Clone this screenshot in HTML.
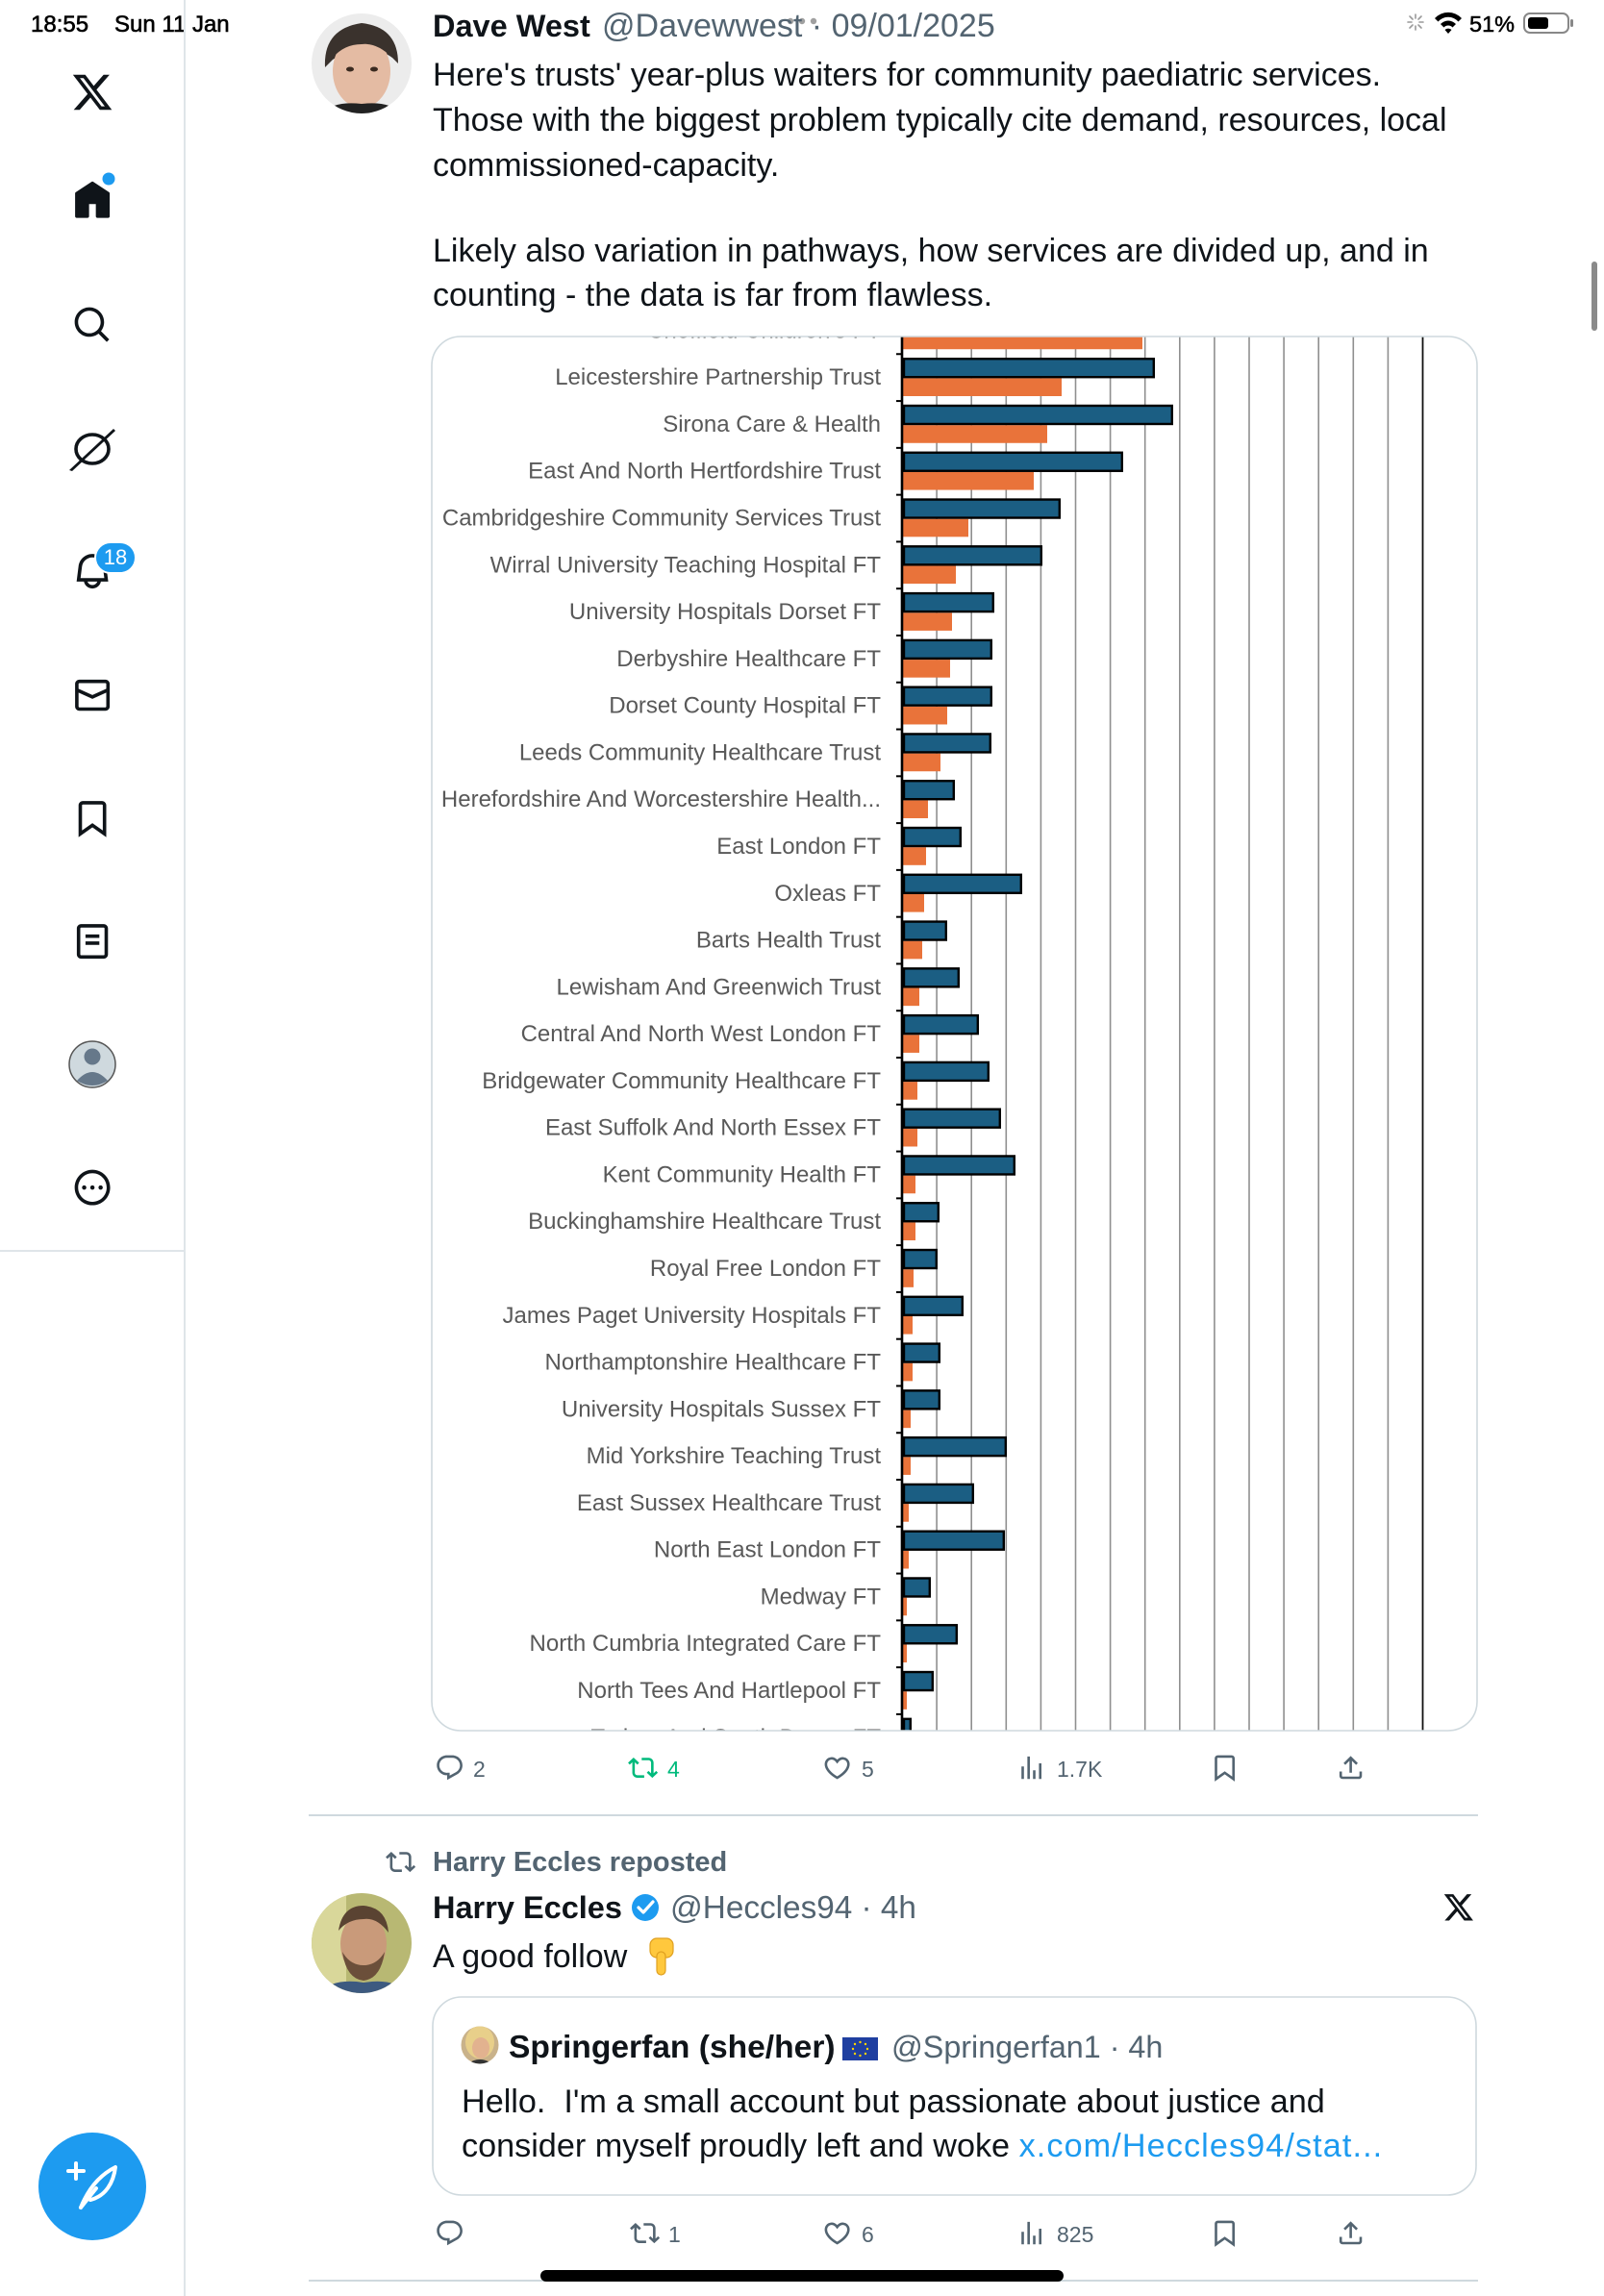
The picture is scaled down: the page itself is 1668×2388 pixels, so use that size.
<!DOCTYPE html>
<html><head><meta charset="utf-8"><style>
html,body{margin:0;padding:0;background:#fff;}
body{width:1668px;height:2388px;overflow:hidden;position:relative;}
svg{position:absolute;left:0;top:0;}
text{font-family:"Liberation Sans","DejaVu Sans",sans-serif;}
</style></head><body>
<svg width="1668" height="2388" viewBox="0 0 1668 2388" xmlns="http://www.w3.org/2000/svg">
<defs>
<clipPath id="chartclip"><rect x="449" y="350" width="1087" height="1450" rx="30" ry="30"/></clipPath>
<clipPath id="av1"><circle cx="376" cy="66" r="52"/></clipPath>
<clipPath id="av2"><circle cx="376" cy="2021" r="52"/></clipPath>
<clipPath id="av3"><circle cx="499" cy="2127" r="19.5"/></clipPath>
<path id="i-reply" d="M1.751 10c0-4.42 3.584-8 8.005-8h4.366c4.49 0 8.129 3.64 8.129 8.13 0 2.96-1.607 5.68-4.196 7.11l-8.054 4.46v-3.690h-.067c-4.49.1-8.183-3.51-8.183-8.01zm8.005-6c-3.317 0-6.005 2.69-6.005 6 0 3.37 2.77 6.080 6.138 6.010l.351-.01h1.761v2.3l5.087-2.810c1.951-1.080 3.163-3.130 3.163-5.360 0-3.390-2.744-6.130-6.129-6.130H9.756z"/>
<path id="i-rt" d="M4.5 3.88l4.432 4.14-1.364 1.46L5.5 7.55V16c0 1.1.896 2 2 2H13v2H7.5c-2.209 0-4-1.790-4-4V7.550L1.432 9.480.068 8.020 4.5 3.880zM16.5 6H11V4h5.5c2.209 0 4 1.790 4 4v8.450l2.068-1.930 1.364 1.460-4.432 4.140-4.432-4.140 1.364-1.460 2.068 1.930V8c0-1.1-.896-2-2-2z"/>
<path id="i-like" d="M16.697 5.5c-1.222-.06-2.679.51-3.89 2.16l-.805 1.09-.806-1.09C9.984 6.01 8.526 5.44 7.304 5.5c-1.243.07-2.349.78-2.91 1.91-.552 1.12-.633 2.78.479 4.82 1.074 1.97 3.257 4.27 7.129 6.610 3.870-2.340 6.052-4.640 7.126-6.610 1.111-2.040 1.030-3.700.477-4.820-.561-1.130-1.666-1.840-2.908-1.910zm4.187 7.690c-1.351 2.480-4.001 5.120-8.379 7.670l-.503.3-.504-.3c-4.379-2.550-7.029-5.190-8.382-7.670-1.360-2.500-1.410-4.860-.514-6.670.887-1.790 2.647-2.910 4.601-3.010 1.651-.090 3.368.560 4.798 2.010 1.429-1.450 3.146-2.100 4.796-2.010 1.954.1 3.714 1.220 4.601 3.010.896 1.810.846 4.170-.514 6.670z"/>
<path id="i-views" d="M8.75 21V3h2v18h-2zM18 21V8.5h2V21h-2zM4 21l.004-10h2L6 21H4zm9.248 0v-7h2v7h-2z"/>
<path id="i-bm" d="M4 4.5C4 3.12 5.119 2 6.5 2h11C18.881 2 20 3.12 20 4.5v18.44l-8-5.71-8 5.71V4.5zM6.5 4c-.276 0-.5.22-.5.5v14.56l6-4.29 6 4.29V4.5c0-.28-.224-.5-.5-.5h-11z"/>
<path id="i-share" d="M12 2.59l5.7 5.7-1.41 1.42L13 6.41V16h-2V6.41l-3.3 3.3-1.41-1.42L12 2.59zM21 15l-.02 3.51c0 1.38-1.12 2.49-2.5 2.49H5.5C4.11 21 3 19.88 3 18.5V15h2v3.5c0 .28.22.5.5.5h12.98c.28 0 .5-.22.5-.5L19 15h2z"/>
<path id="i-x" d="M18.244 2.25h3.308l-7.227 8.26 8.502 11.24H16.17l-5.214-6.817L4.99 21.75H1.68l7.73-8.835L1.254 2.25H8.08l4.713 6.231zm-1.161 17.52h1.833L7.084 4.126H5.117z"/>
</defs>

<!-- ===== Status bar ===== -->
<text x="32" y="33" font-size="24" fill="#000" stroke="#000" stroke-width="0.6">18:55</text>
<text x="119" y="33" font-size="24" fill="#000" stroke="#000" stroke-width="0.6">Sun 11 Jan</text>
<g stroke="#9a9a9a" stroke-width="1.6" stroke-linecap="round">
<line x1="1472" y1="15" x2="1472" y2="19"/><line x1="1472" y1="27" x2="1472" y2="31"/>
<line x1="1464" y1="23" x2="1468" y2="23"/><line x1="1476" y1="23" x2="1480" y2="23"/>
<line x1="1466" y1="17" x2="1469" y2="20"/><line x1="1475" y1="26" x2="1478" y2="29"/>
<line x1="1478" y1="17" x2="1475" y2="20"/><line x1="1469" y1="26" x2="1466" y2="29"/>
</g>
<path d="M1492 19 A19 19 0 0 1 1520 19 L1516.5 22.5 A14 14 0 0 0 1495.5 22.5Z M1498 25 A11 11 0 0 1 1514 25 L1510.5 28.5 A6 6 0 0 0 1501.5 28.5Z M1506 35 L1502.5 31 A5 5 0 0 1 1509.5 31Z" fill="#000"/>
<text x="1528" y="33" font-size="23.5" fill="#000" stroke="#000" stroke-width="0.5">51%</text>
<rect x="1585" y="14" width="46" height="20" rx="6" fill="none" stroke="#888" stroke-width="2"/>
<rect x="1589" y="18" width="21" height="12" rx="3" fill="#000"/>
<rect x="1633" y="20" width="3" height="8" rx="1.5" fill="#888"/>
<circle cx="822" cy="22" r="3.2" fill="#a0a0a0"/><circle cx="834" cy="22" r="3.2" fill="#a0a0a0"/><circle cx="846" cy="22" r="3.2" fill="#a0a0a0"/>

<!-- ===== Sidebar ===== -->
<line x1="192" y1="0" x2="192" y2="2388" stroke="#dfe5e9" stroke-width="2"/>
<line x1="0" y1="1301" x2="192" y2="1301" stroke="#dfe5e9" stroke-width="2"/>
<use href="#i-x" transform="translate(73.5,73.5) scale(1.875)" fill="#0f1419"/>
<path transform="translate(74.5,187) scale(1.8)" fill="#0f1419" d="M21.591 7.146L12.52 1.157c-.316-.21-.724-.21-1.04 0l-9.071 5.99c-.26.173-.409.456-.409.757v13.183c0 .502.418.913.929.913H9.14c.51 0 .929-.41.929-.913v-7.075h3.909v7.075c0 .502.417.913.928.913h6.165c.511 0 .929-.41.929-.913V7.904c0-.301-.158-.584-.408-.758z"/>
<circle cx="113" cy="186" r="6.5" fill="#1d9bf0"/>
<path transform="translate(74.5,316.5) scale(1.8)" fill="#0f1419" d="M10.25 3.75c-3.59 0-6.5 2.91-6.5 6.5s2.91 6.5 6.5 6.5c1.795 0 3.419-.726 4.596-1.904 1.178-1.177 1.904-2.801 1.904-4.596 0-3.59-2.91-6.5-6.5-6.5zm-8.5 6.5c0-4.694 3.806-8.5 8.5-8.5s8.5 3.806 8.5 8.5c0 1.986-.682 3.815-1.824 5.262l4.781 4.781-1.414 1.414-4.781-4.781c-1.447 1.142-3.276 1.824-5.262 1.824-4.694 0-8.5-3.806-8.5-8.5z"/>
<ellipse cx="96" cy="467" rx="17" ry="15" fill="none" stroke="#0f1419" stroke-width="3.6"/>
<path d="M72 489 L118 446 L120 448 L75 490Z" fill="#0f1419"/>
<path transform="translate(74.5,572.5) scale(1.8)" fill="#0f1419" d="M19.993 9.042C19.48 5.017 16.054 2 11.996 2s-7.49 3.021-7.999 7.051L2.866 18H7.1c.463 2.282 2.481 4 4.9 4s4.437-1.718 4.9-4h4.236l-1.143-8.958zM12 20c-1.306 0-2.417-.835-2.829-2h5.658c-.412 1.165-1.523 2-2.829 2zm-6.866-4l.847-6.698C6.364 6.272 8.941 4 11.996 4s5.627 2.268 6.013 5.295L18.864 16H5.134z"/>
<rect x="99" y="564" width="42" height="32" rx="16" fill="#1d9bf0" stroke="#fff" stroke-width="2"/>
<text x="120" y="587" font-size="22" fill="#fff" text-anchor="middle">18</text>
<path transform="translate(74.5,701.5) scale(1.8)" fill="#0f1419" d="M1.998 5.5c0-1.381 1.119-2.5 2.5-2.5h15c1.381 0 2.5 1.119 2.5 2.5v13c0 1.381-1.119 2.5-2.5 2.5h-15c-1.381 0-2.5-1.119-2.5-2.5v-13zm2.5-.5c-.276 0-.5.224-.5.5v2.764l8 3.638 8-3.636V5.5c0-.276-.224-.5-.5-.5h-15zm15.5 5.463l-8 3.636-8-3.638V18.5c0 .276.224.5.5.5h15c.276 0 .5-.224.5-.5v-8.037z"/>
<use href="#i-bm" transform="translate(74.5,829.5) scale(1.8)" fill="#0f1419"/>
<path transform="translate(74.5,957.5) scale(1.8)" fill="#0f1419" d="M3 4.5C3 3.12 4.12 2 5.5 2h13C19.88 2 21 3.12 21 4.5v15c0 1.38-1.12 2.5-2.5 2.5h-13C4.12 22 3 20.88 3 19.5v-15zM5.5 4c-.28 0-.5.22-.5.5v15c0 .28.22.5.5.5h13c.28 0 .5-.22.5-.5v-15c0-.28-.22-.5-.5-.5h-13zM16 10H8V8h8v2zm-8 2h8v2H8v-2z"/>
<circle cx="96" cy="1107" r="24" fill="#cfd9de" stroke="#555" stroke-width="1.5"/>
<circle cx="96" cy="1099" r="8.5" fill="#66788a"/>
<path d="M80 1124 Q96 1106 112 1124 Q96 1134 80 1124Z" fill="#66788a"/>
<path transform="translate(74.5,1213.5) scale(1.8)" fill="#0f1419" d="M3.75 12c0-4.56 3.69-8.25 8.25-8.25s8.25 3.69 8.25 8.25-3.69 8.25-8.25 8.25S3.75 16.56 3.75 12zM12 1.75C6.34 1.75 1.75 6.34 1.75 12S6.34 22.25 12 22.25 22.25 17.66 22.25 12 17.66 1.75 12 1.75zm-4.75 11.5c.69 0 1.250-.56 1.250-1.250s-.56-1.250-1.250-1.250S6 11.310 6 12s.56 1.250 1.250 1.250zm9.5 0c.69 0 1.250-.56 1.250-1.250s-.56-1.250-1.250-1.250-1.250.56-1.250 1.250.56 1.250 1.250 1.250zM13.250 12c0 .69-.56 1.250-1.250 1.250s-1.250-.56-1.250-1.250.56-1.250 1.250-1.250 1.250.56 1.250 1.250z"/>
<!-- compose -->
<circle cx="96" cy="2274" r="56" fill="#1d9bf0"/>
<g stroke="#fff" stroke-width="4" fill="none" stroke-linecap="round" stroke-linejoin="round">
<line x1="79" y1="2250" x2="79" y2="2266"/><line x1="71" y1="2258" x2="87" y2="2258"/>
<path d="M84 2296 C92 2276 104 2262 120 2254 C118 2270 110 2284 94 2288"/>
<line x1="84" y1="2296" x2="100" y2="2276"/>
</g>
<rect x="1655" y="272" width="6" height="72" rx="3" fill="#8a8a8a"/>

<!-- ===== Tweet 1 ===== -->
<g clip-path="url(#av1)">
<rect x="320" y="10" width="112" height="112" fill="#ececec"/>
<path d="M338 70 Q336 30 376 24 Q414 28 414 66 L408 60 Q380 40 346 62Z" fill="#3a322d"/>
<ellipse cx="376" cy="74" rx="30" ry="38" fill="#e4bba3"/>
<path d="M346 60 Q350 34 378 32 Q404 34 408 60 Q392 44 376 46 Q358 46 346 60Z" fill="#3a322d"/>
<path d="M330 125 Q340 104 376 108 Q412 104 422 125Z" fill="#222"/>
<ellipse cx="364" cy="72" rx="4" ry="2.5" fill="#3a2a20"/><ellipse cx="389" cy="72" rx="4" ry="2.5" fill="#3a2a20"/>
</g>
<text x="450" y="38" font-size="32.5" font-weight="bold" fill="#0f1419">Dave West</text>
<text x="626" y="38" font-size="34" fill="#536471">@Davewwest · 09/01/2025</text>
<g font-size="34" fill="#0f1419">
<text x="450" y="89">Here's trusts' year-plus waiters for community paediatric services.</text>
<text x="450" y="136">Those with the biggest problem typically cite demand, resources, local</text>
<text x="450" y="183">commissioned-capacity.</text>
<text x="450" y="272">Likely also variation in pathways, how services are divided up, and in</text>
<text x="450" y="318">counting - the data is far from flawless.</text>
</g>

<!-- ===== Chart ===== -->
<g clip-path="url(#chartclip)">
<rect x="449" y="350" width="1087" height="1450" fill="#fff"/>
<g stroke="#8f8f8f" stroke-width="1.6">
<line x1="974.1" y1="340" x2="974.1" y2="1810"/><line x1="1010.2" y1="340" x2="1010.2" y2="1810"/>
<line x1="1046.3" y1="340" x2="1046.3" y2="1810"/><line x1="1082.4" y1="340" x2="1082.4" y2="1810"/>
<line x1="1118.5" y1="340" x2="1118.5" y2="1810"/><line x1="1154.6" y1="340" x2="1154.6" y2="1810"/>
<line x1="1190.7" y1="340" x2="1190.7" y2="1810"/><line x1="1226.8" y1="340" x2="1226.8" y2="1810"/>
<line x1="1262.9" y1="340" x2="1262.9" y2="1810"/><line x1="1299" y1="340" x2="1299" y2="1810"/>
<line x1="1335.1" y1="340" x2="1335.1" y2="1810"/><line x1="1371.2" y1="340" x2="1371.2" y2="1810"/>
<line x1="1407.3" y1="340" x2="1407.3" y2="1810"/><line x1="1443.4" y1="340" x2="1443.4" y2="1810"/>
</g>
<line x1="1479.5" y1="340" x2="1479.5" y2="1810" stroke="#111" stroke-width="1.8"/>

<g font-size="24" fill="#595959" text-anchor="end" dominant-baseline="central">
<g transform="translate(0,323.22)"><rect x="939" y="21.4" width="249" height="18.6" fill="#e9733a"/><rect x="940" y="1.2" width="288.8" height="19" fill="#1b5e83" stroke="#000" stroke-width="2.4"/><text x="916" y="20.7">Sheffield Children's FT</text><line x1="932" y1="-3.7" x2="938" y2="-3.7" stroke="#000" stroke-width="2"/></g>
<g transform="translate(0,372)"><rect x="939" y="21.4" width="165" height="18.6" fill="#e9733a"/><rect x="940" y="1.2" width="259.8" height="19" fill="#1b5e83" stroke="#000" stroke-width="2.4"/><text x="916" y="20.7">Leicestershire Partnership Trust</text><line x1="932" y1="-3.7" x2="938" y2="-3.7" stroke="#000" stroke-width="2"/></g>
<g transform="translate(0,420.78)"><rect x="939" y="21.4" width="150" height="18.6" fill="#e9733a"/><rect x="940" y="1.2" width="278.8" height="19" fill="#1b5e83" stroke="#000" stroke-width="2.4"/><text x="916" y="20.7">Sirona Care &amp; Health</text><line x1="932" y1="-3.7" x2="938" y2="-3.7" stroke="#000" stroke-width="2"/></g>
<g transform="translate(0,469.56)"><rect x="939" y="21.4" width="136" height="18.6" fill="#e9733a"/><rect x="940" y="1.2" width="226.8" height="19" fill="#1b5e83" stroke="#000" stroke-width="2.4"/><text x="916" y="20.7">East And North Hertfordshire Trust</text><line x1="932" y1="-3.7" x2="938" y2="-3.7" stroke="#000" stroke-width="2"/></g>
<g transform="translate(0,518.34)"><rect x="939" y="21.4" width="68" height="18.6" fill="#e9733a"/><rect x="940" y="1.2" width="161.8" height="19" fill="#1b5e83" stroke="#000" stroke-width="2.4"/><text x="916" y="20.7">Cambridgeshire Community Services Trust</text><line x1="932" y1="-3.7" x2="938" y2="-3.7" stroke="#000" stroke-width="2"/></g>
<g transform="translate(0,567.12)"><rect x="939" y="21.4" width="55" height="18.6" fill="#e9733a"/><rect x="940" y="1.2" width="142.8" height="19" fill="#1b5e83" stroke="#000" stroke-width="2.4"/><text x="916" y="20.7">Wirral University Teaching Hospital FT</text><line x1="932" y1="-3.7" x2="938" y2="-3.7" stroke="#000" stroke-width="2"/></g>
<g transform="translate(0,615.9)"><rect x="939" y="21.4" width="51" height="18.6" fill="#e9733a"/><rect x="940" y="1.2" width="92.8" height="19" fill="#1b5e83" stroke="#000" stroke-width="2.4"/><text x="916" y="20.7">University Hospitals Dorset FT</text><line x1="932" y1="-3.7" x2="938" y2="-3.7" stroke="#000" stroke-width="2"/></g>
<g transform="translate(0,664.68)"><rect x="939" y="21.4" width="49" height="18.6" fill="#e9733a"/><rect x="940" y="1.2" width="90.8" height="19" fill="#1b5e83" stroke="#000" stroke-width="2.4"/><text x="916" y="20.7">Derbyshire Healthcare FT</text><line x1="932" y1="-3.7" x2="938" y2="-3.7" stroke="#000" stroke-width="2"/></g>
<g transform="translate(0,713.46)"><rect x="939" y="21.4" width="46" height="18.6" fill="#e9733a"/><rect x="940" y="1.2" width="90.8" height="19" fill="#1b5e83" stroke="#000" stroke-width="2.4"/><text x="916" y="20.7">Dorset County Hospital FT</text><line x1="932" y1="-3.7" x2="938" y2="-3.7" stroke="#000" stroke-width="2"/></g>
<g transform="translate(0,762.24)"><rect x="939" y="21.4" width="39" height="18.6" fill="#e9733a"/><rect x="940" y="1.2" width="89.8" height="19" fill="#1b5e83" stroke="#000" stroke-width="2.4"/><text x="916" y="20.7">Leeds Community Healthcare Trust</text><line x1="932" y1="-3.7" x2="938" y2="-3.7" stroke="#000" stroke-width="2"/></g>
<g transform="translate(0,811.02)"><rect x="939" y="21.4" width="26" height="18.6" fill="#e9733a"/><rect x="940" y="1.2" width="51.8" height="19" fill="#1b5e83" stroke="#000" stroke-width="2.4"/><text x="916" y="20.7">Herefordshire And Worcestershire Health...</text><line x1="932" y1="-3.7" x2="938" y2="-3.7" stroke="#000" stroke-width="2"/></g>
<g transform="translate(0,859.8)"><rect x="939" y="21.4" width="24" height="18.6" fill="#e9733a"/><rect x="940" y="1.2" width="58.8" height="19" fill="#1b5e83" stroke="#000" stroke-width="2.4"/><text x="916" y="20.7">East London FT</text><line x1="932" y1="-3.7" x2="938" y2="-3.7" stroke="#000" stroke-width="2"/></g>
<g transform="translate(0,908.58)"><rect x="939" y="21.4" width="22" height="18.6" fill="#e9733a"/><rect x="940" y="1.2" width="121.8" height="19" fill="#1b5e83" stroke="#000" stroke-width="2.4"/><text x="916" y="20.7">Oxleas FT</text><line x1="932" y1="-3.7" x2="938" y2="-3.7" stroke="#000" stroke-width="2"/></g>
<g transform="translate(0,957.36)"><rect x="939" y="21.4" width="20" height="18.6" fill="#e9733a"/><rect x="940" y="1.2" width="43.8" height="19" fill="#1b5e83" stroke="#000" stroke-width="2.4"/><text x="916" y="20.7">Barts Health Trust</text><line x1="932" y1="-3.7" x2="938" y2="-3.7" stroke="#000" stroke-width="2"/></g>
<g transform="translate(0,1006.14)"><rect x="939" y="21.4" width="17" height="18.6" fill="#e9733a"/><rect x="940" y="1.2" width="56.8" height="19" fill="#1b5e83" stroke="#000" stroke-width="2.4"/><text x="916" y="20.7">Lewisham And Greenwich Trust</text><line x1="932" y1="-3.7" x2="938" y2="-3.7" stroke="#000" stroke-width="2"/></g>
<g transform="translate(0,1054.92)"><rect x="939" y="21.4" width="17" height="18.6" fill="#e9733a"/><rect x="940" y="1.2" width="76.8" height="19" fill="#1b5e83" stroke="#000" stroke-width="2.4"/><text x="916" y="20.7">Central And North West London FT</text><line x1="932" y1="-3.7" x2="938" y2="-3.7" stroke="#000" stroke-width="2"/></g>
<g transform="translate(0,1103.7)"><rect x="939" y="21.4" width="15" height="18.6" fill="#e9733a"/><rect x="940" y="1.2" width="87.8" height="19" fill="#1b5e83" stroke="#000" stroke-width="2.4"/><text x="916" y="20.7">Bridgewater Community Healthcare FT</text><line x1="932" y1="-3.7" x2="938" y2="-3.7" stroke="#000" stroke-width="2"/></g>
<g transform="translate(0,1152.48)"><rect x="939" y="21.4" width="15" height="18.6" fill="#e9733a"/><rect x="940" y="1.2" width="99.8" height="19" fill="#1b5e83" stroke="#000" stroke-width="2.4"/><text x="916" y="20.7">East Suffolk And North Essex FT</text><line x1="932" y1="-3.7" x2="938" y2="-3.7" stroke="#000" stroke-width="2"/></g>
<g transform="translate(0,1201.26)"><rect x="939" y="21.4" width="13" height="18.6" fill="#e9733a"/><rect x="940" y="1.2" width="114.8" height="19" fill="#1b5e83" stroke="#000" stroke-width="2.4"/><text x="916" y="20.7">Kent Community Health FT</text><line x1="932" y1="-3.7" x2="938" y2="-3.7" stroke="#000" stroke-width="2"/></g>
<g transform="translate(0,1250.04)"><rect x="939" y="21.4" width="13" height="18.6" fill="#e9733a"/><rect x="940" y="1.2" width="35.8" height="19" fill="#1b5e83" stroke="#000" stroke-width="2.4"/><text x="916" y="20.7">Buckinghamshire Healthcare Trust</text><line x1="932" y1="-3.7" x2="938" y2="-3.7" stroke="#000" stroke-width="2"/></g>
<g transform="translate(0,1298.82)"><rect x="939" y="21.4" width="11" height="18.6" fill="#e9733a"/><rect x="940" y="1.2" width="33.8" height="19" fill="#1b5e83" stroke="#000" stroke-width="2.4"/><text x="916" y="20.7">Royal Free London FT</text><line x1="932" y1="-3.7" x2="938" y2="-3.7" stroke="#000" stroke-width="2"/></g>
<g transform="translate(0,1347.6)"><rect x="939" y="21.4" width="10" height="18.6" fill="#e9733a"/><rect x="940" y="1.2" width="60.8" height="19" fill="#1b5e83" stroke="#000" stroke-width="2.4"/><text x="916" y="20.7">James Paget University Hospitals FT</text><line x1="932" y1="-3.7" x2="938" y2="-3.7" stroke="#000" stroke-width="2"/></g>
<g transform="translate(0,1396.38)"><rect x="939" y="21.4" width="10" height="18.6" fill="#e9733a"/><rect x="940" y="1.2" width="36.8" height="19" fill="#1b5e83" stroke="#000" stroke-width="2.4"/><text x="916" y="20.7">Northamptonshire Healthcare FT</text><line x1="932" y1="-3.7" x2="938" y2="-3.7" stroke="#000" stroke-width="2"/></g>
<g transform="translate(0,1445.16)"><rect x="939" y="21.4" width="8" height="18.6" fill="#e9733a"/><rect x="940" y="1.2" width="36.8" height="19" fill="#1b5e83" stroke="#000" stroke-width="2.4"/><text x="916" y="20.7">University Hospitals Sussex FT</text><line x1="932" y1="-3.7" x2="938" y2="-3.7" stroke="#000" stroke-width="2"/></g>
<g transform="translate(0,1493.94)"><rect x="939" y="21.4" width="8" height="18.6" fill="#e9733a"/><rect x="940" y="1.2" width="105.8" height="19" fill="#1b5e83" stroke="#000" stroke-width="2.4"/><text x="916" y="20.7">Mid Yorkshire Teaching Trust</text><line x1="932" y1="-3.7" x2="938" y2="-3.7" stroke="#000" stroke-width="2"/></g>
<g transform="translate(0,1542.72)"><rect x="939" y="21.4" width="6" height="18.6" fill="#e9733a"/><rect x="940" y="1.2" width="71.8" height="19" fill="#1b5e83" stroke="#000" stroke-width="2.4"/><text x="916" y="20.7">East Sussex Healthcare Trust</text><line x1="932" y1="-3.7" x2="938" y2="-3.7" stroke="#000" stroke-width="2"/></g>
<g transform="translate(0,1591.5)"><rect x="939" y="21.4" width="6" height="18.6" fill="#e9733a"/><rect x="940" y="1.2" width="103.8" height="19" fill="#1b5e83" stroke="#000" stroke-width="2.4"/><text x="916" y="20.7">North East London FT</text><line x1="932" y1="-3.7" x2="938" y2="-3.7" stroke="#000" stroke-width="2"/></g>
<g transform="translate(0,1640.28)"><rect x="939" y="21.4" width="4" height="18.6" fill="#e9733a"/><rect x="940" y="1.2" width="26.8" height="19" fill="#1b5e83" stroke="#000" stroke-width="2.4"/><text x="916" y="20.7">Medway FT</text><line x1="932" y1="-3.7" x2="938" y2="-3.7" stroke="#000" stroke-width="2"/></g>
<g transform="translate(0,1689.06)"><rect x="939" y="21.4" width="4" height="18.6" fill="#e9733a"/><rect x="940" y="1.2" width="54.8" height="19" fill="#1b5e83" stroke="#000" stroke-width="2.4"/><text x="916" y="20.7">North Cumbria Integrated Care FT</text><line x1="932" y1="-3.7" x2="938" y2="-3.7" stroke="#000" stroke-width="2"/></g>
<g transform="translate(0,1737.84)"><rect x="939" y="21.4" width="4" height="18.6" fill="#e9733a"/><rect x="940" y="1.2" width="29.8" height="19" fill="#1b5e83" stroke="#000" stroke-width="2.4"/><text x="916" y="20.7">North Tees And Hartlepool FT</text><line x1="932" y1="-3.7" x2="938" y2="-3.7" stroke="#000" stroke-width="2"/></g>
<g transform="translate(0,1786.62)"><rect x="939" y="21.4" width="3" height="18.6" fill="#e9733a"/><rect x="940" y="1.2" width="6.8" height="19" fill="#1b5e83" stroke="#000" stroke-width="2.4"/><text x="916" y="20.7">Torbay And South Devon FT</text><line x1="932" y1="-3.7" x2="938" y2="-3.7" stroke="#000" stroke-width="2"/></g>
</g>
<line x1="938" y1="340" x2="938" y2="1810" stroke="#000" stroke-width="2.6"/>
</g>
<rect x="449" y="350" width="1087" height="1450" rx="30" ry="30" fill="none" stroke="#cfd9de" stroke-width="1.6"/>

<!-- action bar 1 -->
<g fill="#536471">
<use href="#i-reply" transform="translate(452,1823) scale(1.3)"/>
<use href="#i-rt" transform="translate(653,1823) scale(1.3)" fill="#00ba7c"/>
<use href="#i-like" transform="translate(855,1823) scale(1.3)"/>
<use href="#i-views" transform="translate(1057,1823) scale(1.3)"/>
<use href="#i-bm" transform="translate(1258,1823) scale(1.3)"/>
<use href="#i-share" transform="translate(1389,1823) scale(1.3)"/>
</g>
<g font-size="23" fill="#536471">
<text x="492" y="1848">2</text>
<text x="694" y="1848" fill="#00ba7c">4</text>
<text x="896" y="1848">5</text>
<text x="1099" y="1848">1.7K</text>
</g>
<line x1="321" y1="1888" x2="1537" y2="1888" stroke="#cfd9de" stroke-width="2"/>

<!-- ===== Tweet 2 ===== -->
<use href="#i-rt" transform="translate(401,1921) scale(1.3)" fill="#536471"/>
<text x="450" y="1946" font-size="29" font-weight="bold" fill="#536471">Harry Eccles reposted</text>
<g clip-path="url(#av2)">
<rect x="320" y="1965" width="112" height="112" fill="#b8b873"/>
<rect x="320" y="1965" width="40" height="112" fill="#d9d79a"/>
<ellipse cx="378" cy="2022" rx="24" ry="32" fill="#c99a7a"/>
<path d="M352 2008 Q356 1982 378 1982 Q402 1984 404 2010 Q392 1994 378 1996 Q362 1996 352 2008Z" fill="#5a4332"/>
<path d="M356 2030 Q360 2058 378 2060 Q396 2058 400 2030 Q392 2044 378 2044 Q364 2044 356 2030Z" fill="#6b4f3a"/>
<path d="M326 2080 Q340 2056 378 2062 Q416 2056 430 2080Z" fill="#3d5a80"/>
</g>
<text x="450" y="1995" font-size="32.5" font-weight="bold" fill="#0f1419">Harry Eccles</text>
<circle cx="671" cy="1984" r="14" fill="#1d9bf0"/>
<path d="M664 1984 L669 1989 L679 1978" stroke="#fff" stroke-width="3.2" fill="none" stroke-linecap="round" stroke-linejoin="round"/>
<text x="697" y="1995" font-size="33.3" fill="#536471">@Heccles94 · 4h</text>
<use href="#i-x" transform="translate(1500,1967) scale(1.4)" fill="#0f1419"/>
<text x="450" y="2046" font-size="34" fill="#0f1419">A good follow</text>
<g>
<rect x="676" y="2016" width="24" height="20" rx="7" fill="#ffc83d" stroke="#e0a020" stroke-width="1.2"/>
<rect x="683" y="2030" width="9" height="24" rx="4.5" fill="#ffc83d" stroke="#e0a020" stroke-width="1.2"/>
</g>
<!-- quote card -->
<rect x="450" y="2077" width="1085" height="206" rx="30" ry="30" fill="none" stroke="#cfd9de" stroke-width="1.6"/>
<g clip-path="url(#av3)">
<rect x="478" y="2106" width="42" height="42" fill="#c9b28a"/>
<ellipse cx="499" cy="2124" rx="15" ry="17" fill="#e8cf8a"/>
<ellipse cx="500" cy="2130" rx="9" ry="11" fill="#e2b28f"/>
<path d="M484 2148 Q499 2136 514 2148Z" fill="#333"/>
</g>
<text x="529" y="2140" font-size="33.6" font-weight="bold" fill="#0f1419">Springerfan (she/her)</text>
<rect x="876" y="2119" width="37" height="24" fill="#1f3fa0"/>
<g fill="#ffd400">
<circle cx="894.5" cy="2124" r="1.2"/><circle cx="900" cy="2126" r="1.2"/><circle cx="902" cy="2131" r="1.2"/><circle cx="900" cy="2136" r="1.2"/><circle cx="894.5" cy="2138" r="1.2"/><circle cx="889" cy="2136" r="1.2"/><circle cx="887" cy="2131" r="1.2"/><circle cx="889" cy="2126" r="1.2"/>
</g>
<text x="927" y="2140" font-size="32.3" fill="#536471">@Springerfan1 · 4h</text>
<text x="480" y="2197" font-size="34.2" fill="#0f1419">Hello.&#160; I'm a small account but passionate about justice and</text>
<text x="480" y="2243" font-size="34.2" fill="#0f1419">consider myself proudly left and woke <tspan fill="#1d9bf0" letter-spacing="1.1">x.com/Heccles94/stat...</tspan></text>

<!-- action bar 2 -->
<g fill="#536471">
<use href="#i-reply" transform="translate(452,2307) scale(1.3)"/>
<use href="#i-rt" transform="translate(655,2307) scale(1.3)"/>
<use href="#i-like" transform="translate(855,2307) scale(1.3)"/>
<use href="#i-views" transform="translate(1057,2307) scale(1.3)"/>
<use href="#i-bm" transform="translate(1258,2307) scale(1.3)"/>
<use href="#i-share" transform="translate(1389,2307) scale(1.3)"/>
</g>
<g font-size="23" fill="#536471">
<text x="695" y="2332">1</text>
<text x="896" y="2332">6</text>
<text x="1099" y="2332">825</text>
</g>
<line x1="321" y1="2372" x2="1537" y2="2372" stroke="#cfd9de" stroke-width="2"/>
<rect x="562" y="2361" width="544" height="12" rx="6" fill="#000"/>
</svg>
</body></html>
